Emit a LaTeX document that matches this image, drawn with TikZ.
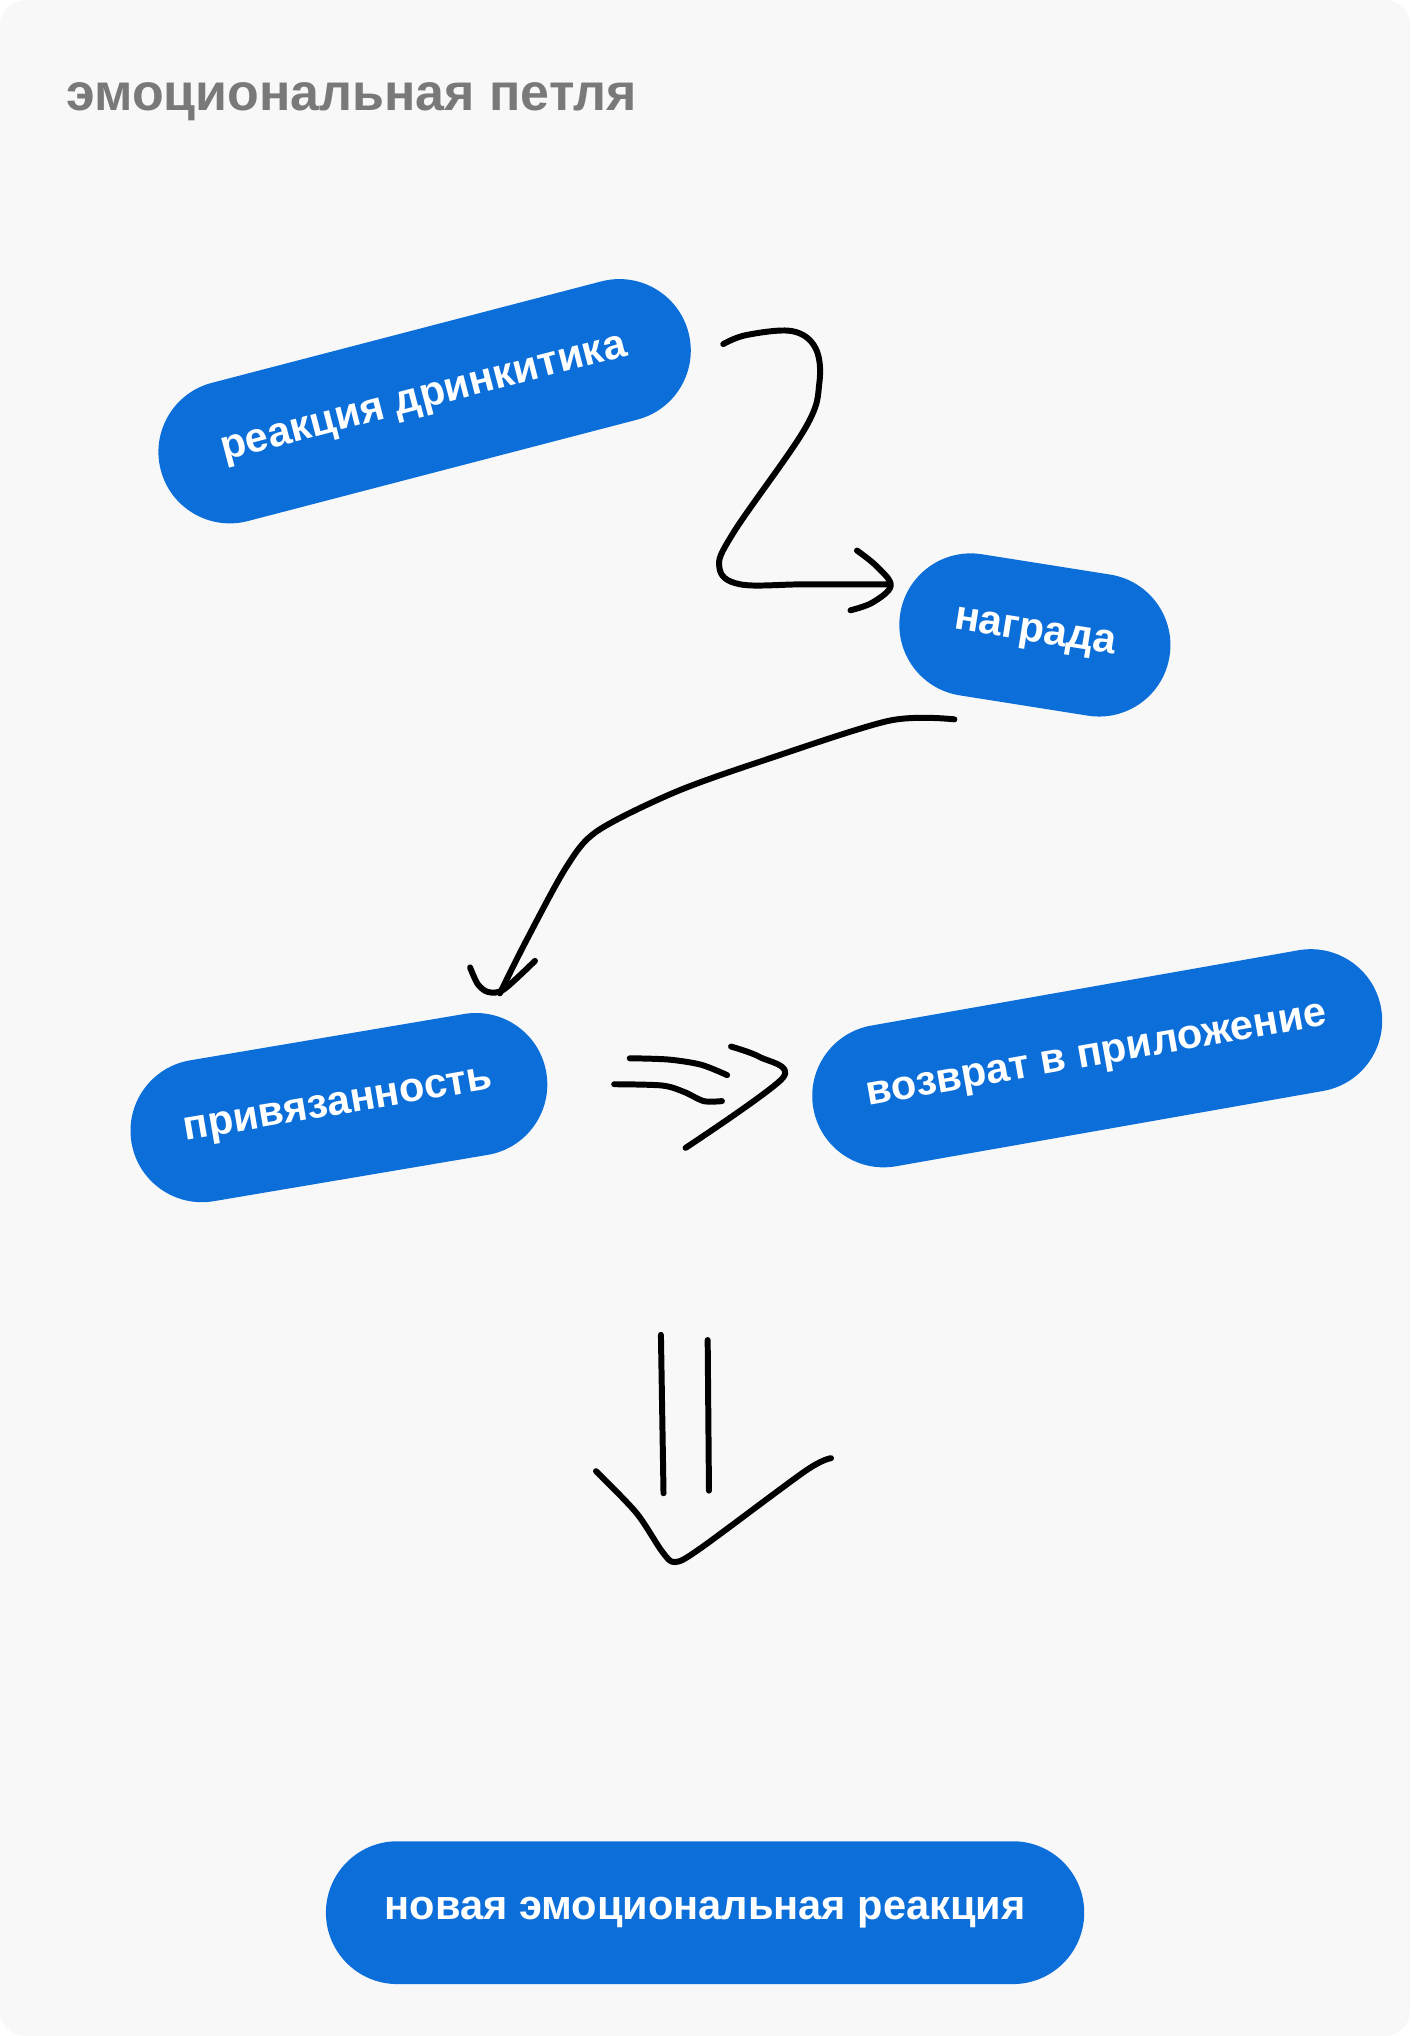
\documentclass[tikz,border=0pt]{standalone}
\usepackage{fontspec}
\setmainfont{Liberation Sans}
\begin{document}
\begin{tikzpicture}[x=0.5pt,y=-0.5pt,
  pill/.style={fill=pillblue,rounded corners=27.5pt,minimum height=55pt,text=white,font=\bfseries\fontsize{16}{18}\selectfont,inner sep=0pt},
  hand/.style={line width=2.3pt,line cap=round,line join=round}]
\definecolor{pillblue}{HTML}{0C6FD9}
\definecolor{bg}{HTML}{F8F8F9}
\useasboundingbox (0,0) rectangle (1086,1568);
\fill[white] (0,0) rectangle (1086,1568);
\fill[bg,rounded corners=10pt] (0,0) rectangle (1086,1568);
\node[anchor=west,text=gray!95!black,font=\bfseries\fontsize{20}{22}\selectfont] (title) at (44,78) {эмоциональная петля};
\node[pill,rotate=14.6,minimum width=210pt] (p1) at (327,309) {реакция дринкитика};
\node[pill,rotate=-9,minimum width=105pt] (p2) at (797,489) {награда};
\node[pill,rotate=9.6,minimum width=162pt] (p3) at (261,853) {привязанность};
\node[pill,rotate=10,minimum width=222pt] (p4) at (845,815) {возврат в приложение};
\node[pill,minimum width=292pt] (p5) at (543,1473) {новая эмоциональная реакция};
% arrow 1
\draw[hand] plot[smooth,tension=0.6] coordinates {(557,265) (575,258) (610,255) (628,268) (631,295) (620,330) (565,410) (554,437) (570,450) (620,450) (685,450)};
\draw[hand] plot[smooth,tension=0.6] coordinates {(660,424) (675,436) (686,451) (672,464) (655,470)};
% arrow 2
\draw[hand] plot[smooth,tension=0.5] coordinates {(735,554) (685,555) (590,585) (520,610) (460,640) (436,668) (405,725) (385,765)};
\draw[hand] plot[smooth,tension=0.5] coordinates {(362,745) (368,758) (376,764) (388,762) (412,740)};
% arrow 3
\draw[hand] plot[smooth,tension=0.5] coordinates {(485,815) (515,816) (540,820) (560,828)};
\draw[hand] plot[smooth,tension=0.5] coordinates {(473,835) (510,836) (527,841) (542,848) (556,848)};
\draw[hand] plot[smooth,tension=0.5] coordinates {(563,806) (585,814) (603,830) (528,884)};
% arrow 4
\draw[hand] (509,1028) -- (511,1150);
\draw[hand] (545,1032) -- (546,1148);
\draw[hand] plot[smooth,tension=0.5] coordinates {(459,1133) (490,1165) (510,1195) (520,1203) (540,1192) (620,1133) (640,1123)};
\end{tikzpicture}
\end{document}
